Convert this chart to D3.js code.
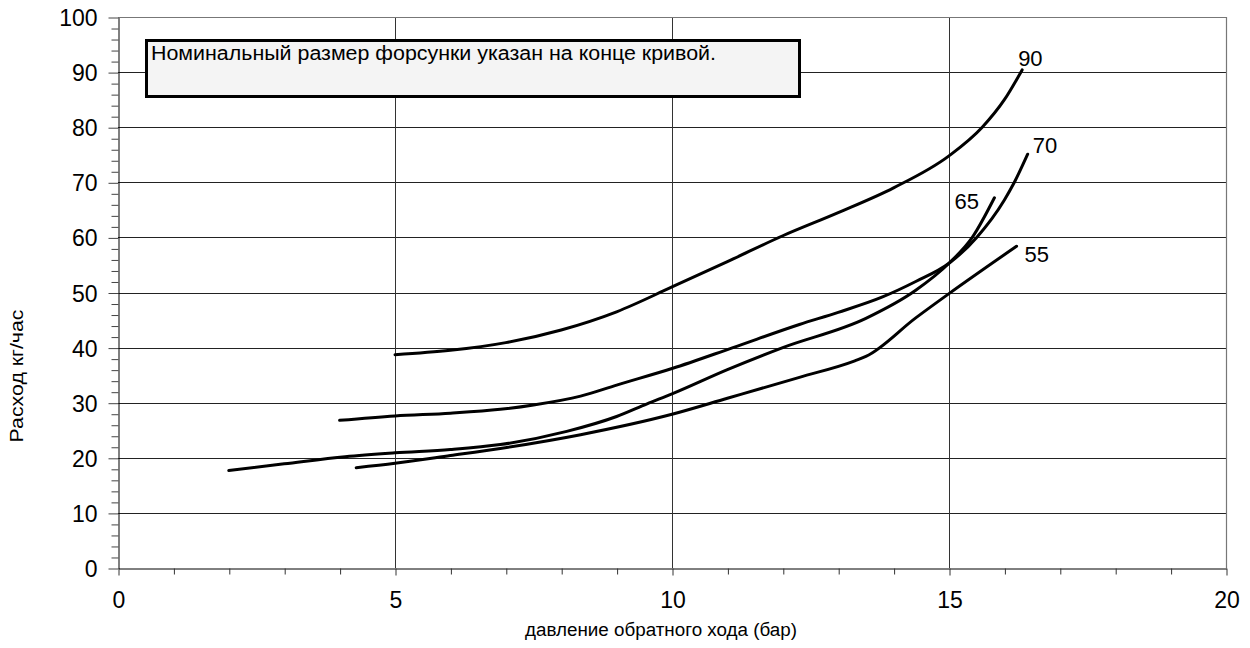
<!DOCTYPE html>
<html>
<head>
<meta charset="utf-8">
<script src="https://cdn.jsdelivr.net/npm/d3@7/dist/d3.min.js"></script>
<style>
  html, body { margin: 0; padding: 0; background: #fff; }
  svg { display: block; }
  text { font-family: "Liberation Sans", Arial, Helvetica, sans-serif; fill: #000; }
</style>
</head>
<body>
<svg id="chart" width="1250" height="648"></svg>
<script>
// ---- data ----
const xTickValues = [0, 5, 10, 15, 20];
const yTickValues = [0, 10, 20, 30, 40, 50, 60, 70, 80, 90, 100];
const seriesNames = ["90", "70", "65", "55"];

const curve90 = [[5, 38.7], [6, 39.5], [7, 40.9], [8, 43.2], [9, 46.5], [10, 51], [11, 55.6], [12, 60.3], [13, 64.5], [14, 69], [15, 74.8], [15.6, 80], [16, 85], [16.32, 90.4]];
const curve70 = [[4, 26.8], [5, 27.6], [6, 28.1], [6.9, 28.8], [7.5, 29.6], [8.35, 31.2], [9, 33.2], [10, 36.2], [11.1, 40], [12.3, 44.2], [13, 46.4], [13.8, 49.2], [14.4, 52], [15, 55.3], [15.5, 60], [16, 66.8], [16.18, 70], [16.42, 75.1]];
const curve65 = [[2, 17.7], [3, 18.9], [4.1, 20.2], [5, 20.9], [6, 21.5], [6.9, 22.4], [8.1, 24.8], [9, 27.5], [9.55, 29.8], [10, 31.6], [11, 36], [12, 40], [13.5, 45.3], [14.4, 50.4], [15, 55.3], [15.42, 60], [15.82, 67.2]];
const curve55 = [[4.3, 18.2], [5, 19], [6, 20.4], [6.9, 21.7], [8.35, 24.2], [10, 27.9], [11, 30.8], [12.3, 34.6], [13.3, 37.6], [13.5, 38.4], [14.4, 45.4], [15, 49.8], [16.22, 58.4]];
const seriesValues = [curve90, curve70, curve65, curve55];

const noteText = "Номинальный размер форсунки указан на конце кривой.";
const xTitle = "давление обратного хода (бар)";
const yTitle = "Расход кг/час";

// ---- layout ----
const svg = d3.select("#chart");
const X0 = 118, X1 = 1226, Y0 = 568, Y1 = 17;
const x = d3.scaleLinear().domain([0, 20]).range([X0, X1]);
const y = d3.scaleLinear().domain([0, 100]).range([Y0, Y1]);

// horizontal gridlines
svg.append("g").selectAll("line")
  .data(yTickValues.filter(d => d > 0 && d < 100))
  .join("line")
  .attr("x1", X0).attr("x2", X1)
  .attr("y1", d => Math.round(y(d)) + 0.5).attr("y2", d => Math.round(y(d)) + 0.5)
  .attr("stroke", "#222").attr("stroke-width", 1);

// vertical gridlines
svg.append("g").selectAll("line")
  .data(xTickValues.filter(d => d > 0 && d < 20))
  .join("line")
  .attr("y1", Y0).attr("y2", Y1)
  .attr("x1", d => Math.round(x(d)) + 0.5).attr("x2", d => Math.round(x(d)) + 0.5)
  .attr("stroke", "#333").attr("stroke-width", 1);

// frame top/right
svg.append("path")
  .attr("d", `M${X0},${Y1 + 0.5}H${X1 + 0.5}V${Y0}`)
  .attr("fill", "none").attr("stroke", "#777").attr("stroke-width", 1.2);

// x axis
const xAxis = d3.axisBottom(x).tickValues(d3.range(0, 21, 1)).tickSize(6).tickSizeOuter(0)
  .tickFormat(d => xTickValues.includes(d) ? d : "");
const gx = svg.append("g").attr("transform", `translate(0.5,${Y0 + 0.5})`).call(xAxis);
gx.select(".domain").attr("stroke", "#000");
gx.selectAll(".tick line").attr("stroke", "#333").attr("y2", d => xTickValues.includes(d) ? 7 : 6);
gx.selectAll(".tick text").attr("font-size", 23).attr("dy", 0).attr("y", 39)
  .attr("font-family", "Liberation Sans, Arial, sans-serif");

// y axis
const yAxis = d3.axisLeft(y).tickValues(d3.range(0, 101, 2)).tickSizeOuter(0)
  .tickFormat(d => yTickValues.includes(d) ? d : "");
const gy = svg.append("g").attr("transform", `translate(${X0 + 0.5},0.5)`).call(yAxis);
gy.select(".domain").attr("stroke", "#000");
gy.selectAll(".tick line").attr("stroke", "#444").attr("x2", d => yTickValues.includes(d) ? -10 : -7);
gy.selectAll(".tick text").attr("font-size", 23).attr("x", -21).attr("dy", "0.35em")
  .attr("font-family", "Liberation Sans, Arial, sans-serif");

// curves
const line = d3.line().x(d => x(d[0])).y(d => y(d[1])).curve(d3.curveMonotoneX);
svg.append("g").selectAll("path")
  .data(seriesValues)
  .join("path")
  .attr("d", line)
  .attr("fill", "none").attr("stroke", "#000").attr("stroke-width", 3)
  .attr("stroke-linecap", "round");

// end labels (offsets from curve end, in px)
const labelOffsets = [[-4, -4], [5, -1], [-40, 11], [8, 16]];
svg.append("g").selectAll("text")
  .data(seriesValues)
  .join("text")
  .attr("x", (d, i) => x(d[d.length - 1][0]) + labelOffsets[i][0])
  .attr("y", (d, i) => y(d[d.length - 1][1]) + labelOffsets[i][1])
  .attr("font-size", 22)
  .text((d, i) => seriesNames[i]);

// note box
svg.append("rect")
  .attr("x", 146.5).attr("y", 40.5).attr("width", 653).attr("height", 56)
  .attr("fill", "#f4f4f4").attr("stroke", "#000").attr("stroke-width", 3);
svg.append("text")
  .attr("x", 151).attr("y", 60)
  .attr("font-size", 20)
  .attr("textLength", 565).attr("lengthAdjust", "spacingAndGlyphs")
  .text(noteText);

// axis titles
svg.append("text")
  .attr("x", 661).attr("y", 636)
  .attr("text-anchor", "middle").attr("font-size", 18)
  .attr("textLength", 272).attr("lengthAdjust", "spacingAndGlyphs")
  .text(xTitle);
svg.append("text")
  .attr("transform", "translate(23,376) rotate(-90)")
  .attr("text-anchor", "middle").attr("font-size", 19)
  .attr("textLength", 133).attr("lengthAdjust", "spacingAndGlyphs")
  .text(yTitle);
</script>
</body>
</html>
